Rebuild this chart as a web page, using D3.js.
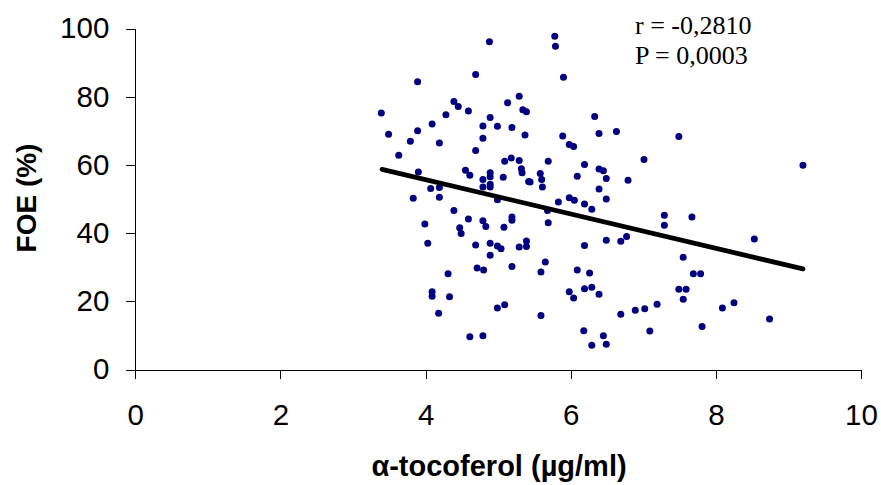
<!DOCTYPE html>
<html>
<head>
<meta charset="utf-8">
<script src="https://cdn.jsdelivr.net/npm/d3@7"></script>
<style>
  html, body { margin: 0; padding: 0; background: #fff; }
  svg { display: block; }
  .axis text { font-family: "Liberation Sans", Arial, sans-serif; font-size: 29.5px; fill: #000; }
  .axis path, .axis line { stroke: #000; stroke-width: 1; shape-rendering: crispEdges; }
  .axis-title { font-family: "Liberation Sans", Arial, sans-serif; font-weight: bold; fill: #000; }
  .stat { font-family: "Liberation Serif", "Times New Roman", serif; font-size: 26px; fill: #000; }
</style>
</head>
<body>
<svg id="chart" width="881" height="485"></svg>
<script>
// α-tocoferol (µg/ml) per subject
const tocoferol = [
  4.88, 5.78, 5.79, 4.69, 5.90, 3.89, 3.39, 3.49, 3.63, 3.79,
  3.89, 4.09, 4.19, 4.28, 4.39, 4.45, 4.59, 4.69, 4.79, 4.79,
  4.89, 4.99, 5.13, 5.19, 5.29, 5.34, 5.39, 5.37, 5.89, 5.98,
  6.04, 6.33, 6.39, 5.69, 6.19, 5.09, 5.18, 5.29, 5.32, 5.33,
  3.90, 4.55, 4.61, 4.89, 4.89, 4.79, 4.89, 4.89, 4.79, 5.07,
  5.42, 5.44, 5.58, 5.60, 5.61, 6.09, 6.39, 6.45, 6.49, 6.39,
  6.49, 5.98, 6.05, 5.83, 6.19, 6.29, 6.49, 4.07, 4.19, 4.19,
  3.83, 4.99, 5.68, 4.39, 4.59, 3.99, 4.47, 4.49, 4.79, 4.83,
  5.19, 5.19, 5.08, 5.69, 4.03, 4.69, 4.89, 4.99, 5.04, 4.89,
  5.29, 5.39, 5.39, 6.19, 5.65, 5.59, 5.19, 4.71, 4.80, 4.31,
  6.09, 6.26, 4.09, 4.09, 4.33, 4.18, 5.98, 6.04, 6.19, 6.29,
  6.39, 4.99, 5.09, 5.59, 4.61, 4.79, 6.18, 6.29, 6.45, 6.49,
  6.63, 7.49, 7.01, 9.20, 6.79, 7.29, 7.29, 7.67, 8.53, 6.69,
  6.77, 7.55, 7.69, 7.79, 7.49, 7.59, 7.55, 6.69, 6.89, 7.02,
  7.19, 8.09, 8.25, 8.74, 7.81, 7.09
];

// FOE (%) per subject, same order
const foe = [
  96.1, 97.7, 94.8, 86.5, 85.7, 84.4, 75.2, 69.0, 62.8, 66.9,
  70.0, 72.0, 66.4, 74.7, 78.6, 77.1, 75.8, 64.2, 71.4, 67.8,
  73.9, 71.3, 78.2, 71.0, 80.1, 76.2, 75.6, 68.8, 68.5, 66.0,
  65.4, 74.2, 69.2, 61.1, 60.1, 61.1, 62.0, 61.3, 58.9, 57.7,
  57.9, 58.4, 57.0, 57.7, 56.5, 55.7, 54.3, 53.5, 53.5, 56.4,
  55.1, 55.0, 57.5, 55.7, 53.5, 56.7, 58.8, 58.3, 56.0, 52.9,
  50.0, 50.4, 49.6, 49.1, 48.5, 47.0, 37.9, 53.1, 53.4, 50.5,
  50.2, 49.8, 46.6, 46.6, 44.1, 42.7, 41.6, 39.9, 43.6, 41.9,
  44.7, 43.8, 41.7, 43.0, 37.0, 36.5, 37.0, 36.2, 35.4, 33.5,
  35.9, 37.7, 36.1, 36.4, 31.5, 28.6, 30.2, 29.8, 29.2, 28.1,
  29.2, 28.3, 22.8, 21.5, 21.3, 16.5, 22.8, 21.0, 23.7, 24.1,
  22.1, 18.0, 19.0, 15.8, 9.6, 9.9, 11.4, 7.1, 9.9, 7.4,
  69.8, 68.3, 61.6, 59.9, 55.5, 45.2, 42.3, 44.7, 38.3, 37.6,
  39.0, 32.9, 28.1, 28.1, 23.5, 23.5, 20.6, 16.2, 17.4, 17.8,
  19.1, 18.0, 19.6, 14.8, 12.6, 11.3
];

// regression line end points as drawn
const trendX = [3.4, 9.2];
const trendY = [58.7, 29.5];

const xTicks = [0, 2, 4, 6, 8, 10];
const yTicks = [0, 20, 40, 60, 80, 100];

const statLines = ['r = -0,2810', 'P = 0,0003'];

const svg = d3.select('#chart');

const x = d3.scaleLinear().domain([0, 10]).range([135.3, 861]);
const y = d3.scaleLinear().domain([0, 100]).range([369.5, 28.5]);

// axes
svg.append('g')
  .attr('class', 'axis')
  .attr('transform', `translate(0,${y(0)})`)
  .call(d3.axisBottom(x).tickValues(xTicks).tickSize(9).tickSizeOuter(0).tickPadding(26).tickFormat(d3.format('d')));

svg.append('g')
  .attr('class', 'axis')
  .attr('transform', `translate(${x(0)},0)`)
  .call(d3.axisLeft(y).tickValues(yTicks).tickSize(9).tickSizeOuter(0).tickPadding(17).tickFormat(d3.format('d')));

// axis titles
svg.append('text')
  .attr('class', 'axis-title')
  .attr('x', 499).attr('y', 476)
  .attr('text-anchor', 'middle')
  .style('font-size', '29px')
  .text('α-tocoferol (µg/ml)');

svg.append('text')
  .attr('class', 'axis-title')
  .attr('transform', `translate(36,${198}) rotate(-90)`)
  .attr('text-anchor', 'middle')
  .style('font-size', '28px')
  .text('FOE (%)');

// points
const pts = tocoferol.map((v, i) => ({ x: v, y: foe[i] }));
svg.append('g')
  .selectAll('circle')
  .data(pts)
  .join('circle')
  .attr('cx', d => x(d.x))
  .attr('cy', d => y(d.y))
  .attr('r', 3.5)
  .attr('fill', '#000080');

// trend line
const line = d3.line().x(d => x(d[0])).y(d => y(d[1]));
svg.append('path')
  .datum(trendX.map((v, i) => [v, trendY[i]]))
  .attr('d', line)
  .attr('fill', 'none')
  .attr('stroke', '#000')
  .attr('stroke-width', 4.8)
  .attr('stroke-linecap', 'round');

// stats
svg.append('g')
  .selectAll('text')
  .data(statLines)
  .join('text')
  .attr('class', 'stat')
  .attr('x', 635)
  .attr('y', (d, i) => 33.5 + i * 30)
  .text(d => d);
</script>
</body>
</html>
